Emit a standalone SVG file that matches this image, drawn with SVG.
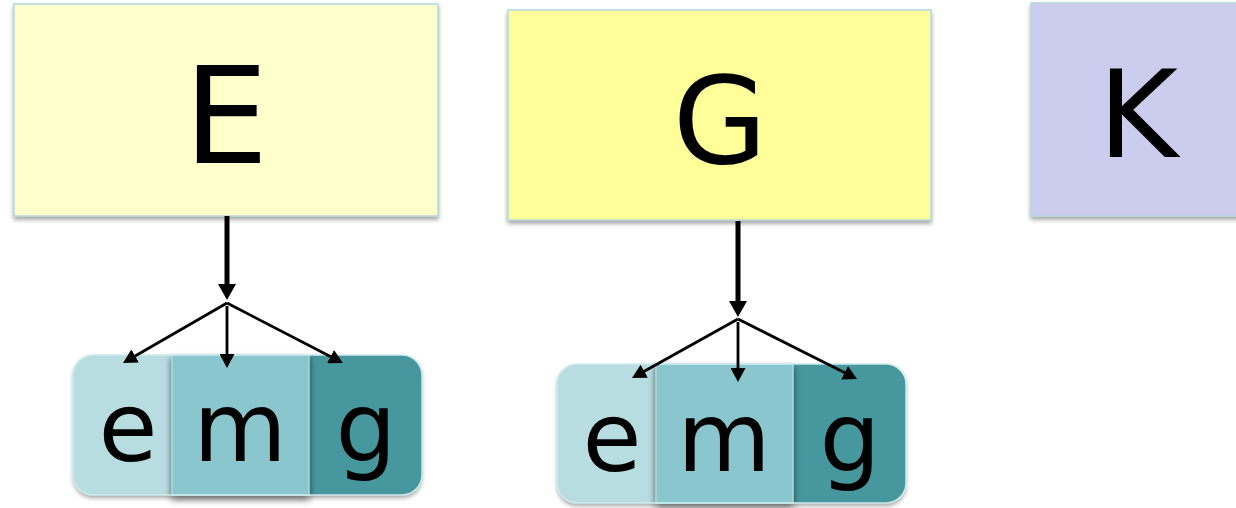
<svg xmlns="http://www.w3.org/2000/svg" width="1236" height="508" viewBox="0 0 1236 508">
<style>
.big{font-family:"DejaVu Sans",sans-serif;fill:#000;text-anchor:middle}
.sm{font-family:"DejaVu Sans",sans-serif;font-size:96px;fill:#000;text-anchor:middle}
.box{stroke:#B3D9DD;stroke-width:1.5}
.e{fill:#B8DDE1}
.m{fill:#8AC6CD;stroke:#A9D7DB;stroke-width:1.5}
.g{fill:#46979E}
.outl{fill:none;stroke:#CFEBEE;stroke-width:1.5}
.main{stroke:#000;stroke-width:5;fill:none}
.br{stroke:#000;stroke-width:2.8;fill:none}
</style>
<defs>
<filter id="sh" x="-10%" y="-10%" width="120%" height="130%">
<feDropShadow dx="0" dy="3" stdDeviation="2" flood-color="#000" flood-opacity="0.35"/>
</filter>
<filter id="sh2" x="-10%" y="-10%" width="120%" height="130%">
<feDropShadow dx="0" dy="4" stdDeviation="3" flood-color="#000" flood-opacity="0.6"/>
</filter>
<marker id="ah" markerUnits="userSpaceOnUse" markerWidth="16" markerHeight="18" refX="2" refY="9" orient="auto">
<path d="M0,0 L16,9 L0,18 Z" fill="#000"/>
</marker>
<marker id="as" markerUnits="userSpaceOnUse" markerWidth="14" markerHeight="15" refX="2" refY="7.5" orient="auto">
<path d="M0,0 L14,7.5 L0,15 Z" fill="#000"/>
</marker>
</defs>

<g id="nodeE">
<rect class="box" x="14" y="4" width="424" height="212" fill="#FFFFCC" filter="url(#sh)"/>
<text class="big" x="226" y="163" font-size="134">E</text>
</g>
<g id="nodeG">
<rect class="box" x="508" y="10" width="423" height="210" fill="#FFFF99" filter="url(#sh)"/>
<text class="big" x="720" y="163" font-size="122">G</text>
</g>
<g id="nodeK">
<rect class="box" x="1031" y="3" width="215" height="213" fill="#CCCCEE" filter="url(#sh)"/>
<text class="big" x="1138" y="157" font-size="122">K</text>
</g>

<g id="emg1">
<g filter="url(#sh)">
<path class="e" d="M93,355 H172 V495 H93 A20,20 0 0 1 73,475 V375 A20,20 0 0 1 93,355 Z"/>
<path class="g" d="M309,355 H402 A20,20 0 0 1 422,375 V475 A20,20 0 0 1 402,495 H309 Z"/>
</g>
<rect class="m" x="172" y="355" width="137" height="140" filter="url(#sh2)"/>
<rect class="outl" x="73" y="355" width="349" height="140" rx="20"/>
<text class="sm" x="128" y="461">e</text>
<text class="sm" x="240" y="461">m</text>
<text class="sm" x="366" y="461">g</text>
</g>

<g id="emg2">
<g filter="url(#sh)">
<path class="e" d="M577,364 H656 V503 H577 A20,20 0 0 1 557,483 V384 A20,20 0 0 1 577,364 Z"/>
<path class="g" d="M793,364 H886 A20,20 0 0 1 906,384 V483 A20,20 0 0 1 886,503 H793 Z"/>
</g>
<rect class="m" x="656" y="364" width="137" height="139" filter="url(#sh2)"/>
<rect class="outl" x="557" y="364" width="349" height="139" rx="20"/>
<text class="sm" x="612" y="471">e</text>
<text class="sm" x="724" y="471">m</text>
<text class="sm" x="850" y="471">g</text>
</g>

<g id="connectors">
<line class="main" x1="227" y1="216" x2="227" y2="286" marker-end="url(#ah)"/>
<line class="br" x1="227" y1="303" x2="133.4" y2="357" marker-end="url(#as)"/>
<line class="br" x1="227" y1="306" x2="227" y2="356" marker-end="url(#as)"/>
<line class="br" x1="227" y1="303" x2="332.3" y2="357.5" marker-end="url(#as)"/>
<line class="main" x1="738" y1="221" x2="738" y2="303" marker-end="url(#ah)"/>
<line class="br" x1="738" y1="319" x2="642.5" y2="372.2" marker-end="url(#as)"/>
<line class="br" x1="738" y1="322" x2="738" y2="370" marker-end="url(#as)"/>
<line class="br" x1="738" y1="319" x2="846.3" y2="373.6" marker-end="url(#as)"/>
</g>
</svg>
